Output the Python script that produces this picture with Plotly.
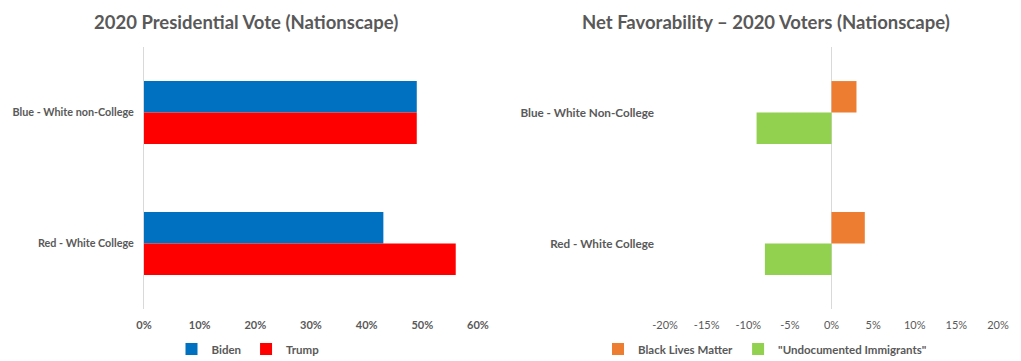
import plotly.graph_objects as go

categories = ["Blue - White non-College", "Red - White College"]
categories2 = ["Blue - White Non-College", "Red - White College"]
biden = [0.49, 0.43]
trump = [0.49, 0.56]
blm = [0.03, 0.04]
undoc = [-0.09, -0.08]

vote_ticks = [0, 0.1, 0.2, 0.3, 0.4, 0.5, 0.6]
vote_labels = ["0%", "10%", "20%", "30%", "40%", "50%", "60%"]
fav_ticks = [-0.2, -0.15, -0.1, -0.05, 0, 0.05, 0.1, 0.15, 0.2]
fav_labels = ["-20%", "-15%", "-10%", "-5%", "0%", "5%", "10%", "15%", "20%"]

FONT = "Lato"
GRAY = "#595959"
AX = "#D9D9D9"

# page body has an 8px default margin; figure is sized to fill the remaining window
OFF = 8
W, H = 1021 - OFF, 361 - OFF


def px(x):
    return (x - OFF) / W


def py(y):
    return 1 - (y - OFF) / H


fig = go.Figure()
fig.add_trace(go.Bar(y=categories, x=biden, orientation="h", name="Biden",
                     marker=dict(color="#0070C0", line=dict(width=0)),
                     xaxis="x", yaxis="y", legend="legend"))
fig.add_trace(go.Bar(y=categories, x=trump, orientation="h", name="Trump",
                     marker=dict(color="#FF0000", line=dict(width=0)),
                     xaxis="x", yaxis="y", legend="legend"))
fig.add_trace(go.Bar(y=categories2, x=blm, orientation="h", name="Black Lives Matter",
                     marker=dict(color="#ED7D31", line=dict(width=0)),
                     xaxis="x2", yaxis="y2", legend="legend2"))
fig.add_trace(go.Bar(y=categories2, x=undoc, orientation="h", name='"Undocumented Immigrants"',
                     marker=dict(color="#92D050", line=dict(width=0)),
                     xaxis="x2", yaxis="y2", legend="legend2"))

y0, y1 = py(309), py(47)

fig.update_layout(
    width=W, height=H,
    margin=dict(l=0, r=0, t=0, b=0, autoexpand=False),
    paper_bgcolor="white", plot_bgcolor="white",
    font=dict(family=FONT, color=GRAY, size=12),
    barmode="group", bargap=0.52,
    xaxis=dict(domain=[px(144), px(478)], range=[0, 0.6], tickvals=vote_ticks,
               ticktext=vote_labels, showgrid=False, zeroline=False, showline=False,
               tickfont=dict(size=11, weight="bold", color=GRAY, family=FONT),
               anchor="y", ticklabelstandoff=8, automargin=False),
    yaxis=dict(domain=[y0, y1], autorange="reversed", showgrid=False, zeroline=False,
               showline=True, linecolor=AX, linewidth=1, anchor="x",
               tickfont=dict(size=10.8, weight="bold", color=GRAY, family=FONT),
               ticklabelstandoff=7, ticks="", automargin=False),
    xaxis2=dict(domain=[px(665), px(998)], range=[-0.2, 0.2], tickvals=fav_ticks,
                ticktext=fav_labels, showgrid=False, zeroline=True, zerolinecolor=AX,
                zerolinewidth=1, showline=False,
                tickfont=dict(size=11, color=GRAY, family=FONT),
                anchor="y2", ticklabelstandoff=8, automargin=False),
    yaxis2=dict(domain=[y0, y1], autorange="reversed", showgrid=False, zeroline=False,
                showline=False, anchor="x2",
                tickfont=dict(size=11.7, weight="bold", color=GRAY, family=FONT),
                ticklabelstandoff=10, ticks="", automargin=False),
    legend=dict(orientation="h", x=px(248), xanchor="center", y=py(349),
                yanchor="middle", font=dict(size=11.5, weight="bold", color=GRAY, family=FONT),
                itemwidth=30, traceorder="normal", bgcolor="rgba(0,0,0,0)"),
    legend2=dict(orientation="h", x=px(765), xanchor="center", y=py(349),
                 yanchor="middle", font=dict(size=11.5, weight="bold", color=GRAY, family=FONT),
                 itemwidth=30, traceorder="normal", bgcolor="rgba(0,0,0,0)"),
    annotations=[
        dict(text="<b>2020 Presidential Vote (Nationscape)</b>", x=px(246), y=py(22),
             xref="paper", yref="paper", showarrow=False, xanchor="center", yanchor="middle",
             font=dict(size=18.5, color=GRAY, family=FONT)),
        dict(text="<b>Net Favorability – 2020 Voters (Nationscape)</b>", x=px(766),
             y=py(22), xref="paper", yref="paper", showarrow=False,
             xanchor="center", yanchor="middle", font=dict(size=18.5, color=GRAY, family=FONT)),
    ],
    shapes=[dict(type="line", xref="paper", yref="paper", x0=px(1019.5), x1=px(1019.5),
                 y0=0, y1=1, line=dict(color=AX, width=1))],
)

fig.write_html("out.html")
